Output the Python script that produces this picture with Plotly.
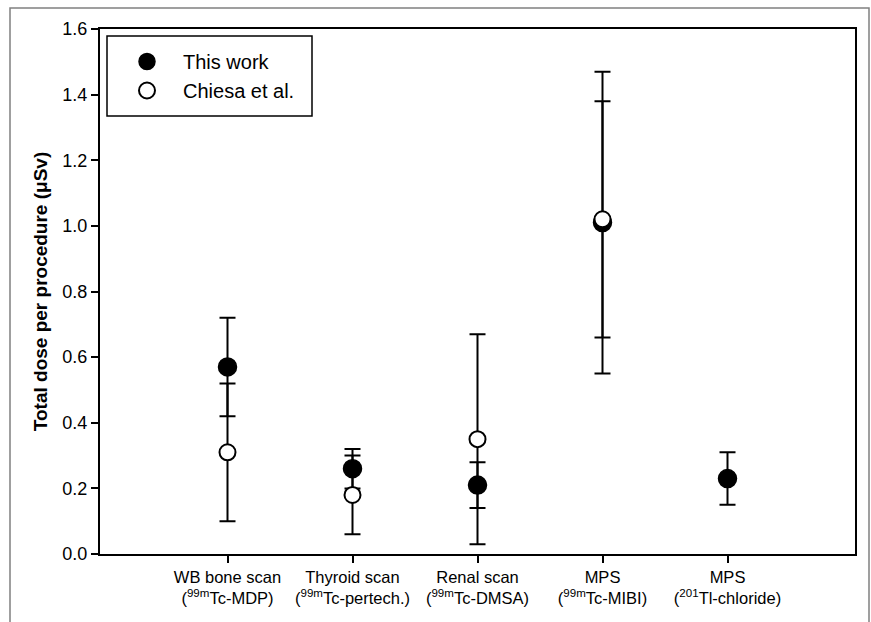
import plotly.graph_objects as go

categories = [
    "WB bone scan<br>(<sup>99m</sup>Tc-MDP)",
    "Thyroid scan<br>(<sup>99m</sup>Tc-pertech.)",
    "Renal scan<br>(<sup>99m</sup>Tc-DMSA)",
    "MPS<br>(<sup>99m</sup>Tc-MIBI)",
    "MPS<br>(<sup>201</sup>Tl-chloride)",
]
x_pos = [1, 2, 3, 4, 5]
this_work = [0.57, 0.26, 0.21, 1.01, 0.23]
this_work_err = [0.15, 0.06, 0.07, 0.46, 0.08]
chiesa = [0.31, 0.18, 0.35, 1.02, None]
chiesa_err = [0.21, 0.12, 0.32, 0.36, None]
y_ticks = [0.0, 0.2, 0.4, 0.6, 0.8, 1.0, 1.2, 1.4, 1.6]

FONT = "Liberation Sans, Arial, sans-serif"
W, H = 871, 622
L, R, T, B = 100, 16, 29, 68
pw, ph = W - L - R, H - T - B

def px_x(p):
    return (p - L) / pw

def px_y(p):
    return (H - B - p) / ph

fig = go.Figure()
fig.add_trace(go.Scatter(
    x=x_pos, y=this_work, mode="markers", name="This work",
    marker=dict(size=18, color="black", line=dict(color="black", width=1.5)),
    error_y=dict(type="data", array=this_work_err, visible=True,
                 color="black", thickness=2, width=8),
))
fig.add_trace(go.Scatter(
    x=x_pos, y=chiesa, mode="markers", name="Chiesa et al.",
    marker=dict(size=16, color="white", line=dict(color="black", width=2)),
    error_y=dict(type="data", array=chiesa_err, visible=True,
                 color="black", thickness=2, width=8),
))

fig.update_layout(
    width=W, height=H,
    margin=dict(l=L, r=R, t=T, b=B),
    paper_bgcolor="white", plot_bgcolor="white",
    font=dict(family=FONT, size=16, color="black"),
    showlegend=True,
    legend=dict(x=px_x(111), y=px_y(42), xanchor="left", yanchor="top",
                bgcolor="rgba(0,0,0,0)", borderwidth=0,
                font=dict(size=20, family=FONT), itemsizing="trace",
                itemwidth=62, tracegroupgap=0),
    xaxis=dict(
        range=[-0.02, 6.02], tickmode="array", tickvals=x_pos, ticktext=categories,
        showgrid=False, zeroline=False, showline=True, linecolor="black", linewidth=2,
        mirror=True, ticks="outside", ticklen=7, tickwidth=1.5, tickcolor="black",
        tickfont=dict(size=16.5, family=FONT),
    ),
    yaxis=dict(
        range=[0, 1.6], tickmode="array", tickvals=y_ticks,
        ticktext=[f"{v:.1f}" for v in y_ticks],
        showgrid=False, zeroline=False, showline=True, linecolor="black", linewidth=2,
        mirror=True, ticks="outside", ticklen=7, tickwidth=1.5, tickcolor="black",
        tickfont=dict(size=18, family=FONT),
        title=dict(text="<b>Total dose per procedure (\u03bcSv)</b>",
                   font=dict(size=19, family=FONT), standoff=10),
    ),
    shapes=[
        # legend box
        dict(type="rect", xref="paper", yref="paper",
             x0=px_x(107), x1=px_x(312), y0=px_y(116), y1=px_y(36),
             line=dict(color="black", width=1.5), fillcolor="rgba(0,0,0,0)"),
        # outer gray frame
        dict(type="path", xref="paper", yref="paper",
             path=f"M {px_x(10)},{px_y(640)} L {px_x(10)},{px_y(8)} L {px_x(869)},{px_y(8)} L {px_x(869)},{px_y(640)}",
             line=dict(color="#808080", width=1.5)),
    ],
)

fig.write_html("out.html", config={"displayModeBar": False},
               post_script="document.body.style.margin='0';document.body.style.overflow='hidden';")
